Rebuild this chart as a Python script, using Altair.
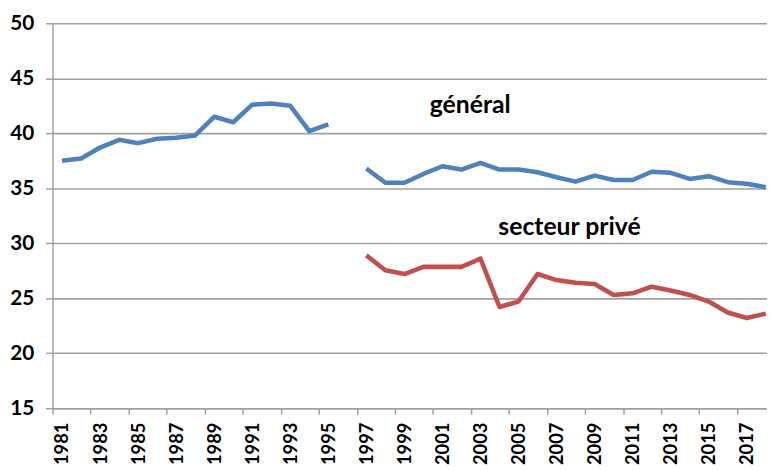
import altair as alt
import pandas as pd

years = list(range(1981, 2019))
general = [37.5, 37.7, 38.7, 39.4, 39.1, 39.5, 39.6, 39.8, 41.5, 41.0, 42.6, 42.7, 42.5, 40.2, 40.8, None,
           36.8, 35.5, 35.5, 36.3, 37.0, 36.7, 37.3, 36.7, 36.7, 36.45, 36.0, 35.6, 36.15, 35.75, 35.75,
           36.5, 36.4, 35.85, 36.1, 35.55, 35.4, 35.1]
private = [None] * 16 + [28.9, 27.55, 27.2, 27.85, 27.85, 27.85, 28.6, 24.2, 24.7, 27.2, 26.65, 26.4,
                         26.3, 25.3, 25.45, 26.05, 25.7, 25.3, 24.7, 23.7, 23.2, 23.6]
series_names = ["général", "secteur privé"]
series_colors = ["#4F81BD", "#C0504D"]
y_ticks = [15, 20, 25, 30, 35, 40, 45, 50]
# category boundaries (Excel-style ticks between years)
x_ticks = [y - 0.5 for y in years]

# annotation labels (text, position in year units, value at baseline)
label_text = ["général", "secteur privé"]
label_year = [2002.46, 2007.68]
label_value = [41.82, 30.73]

rows = []
for i, yr in enumerate(years):
    if general[i] is not None:
        rows.append({"year": yr, "value": general[i], "series": series_names[0],
                     "seg": "g1" if yr < 1996 else "g2"})
    if private[i] is not None:
        rows.append({"year": yr, "value": private[i], "series": series_names[1], "seg": "p1"})
df = pd.DataFrame(rows)

lab = pd.DataFrame({"text": label_text, "year": label_year, "value": label_value})

FONT = "Lato"
GRAY = "#a0a0a0"
W = 722
STEP = 19.22  # pixels per year in the reference

x_scale = alt.Scale(domain=[1980.5, 1980.5 + W / STEP], nice=False, zero=False)
y_scale = alt.Scale(domain=[15, 50], nice=False, zero=False)

x_axis = alt.Axis(
    title=None, values=x_ticks, labelAngle=-90, labelFont=FONT, labelFontWeight="bold", labelFontSize=18.5,
    labelColor="black",
    labelExpr="(datum.value + 0.5) % 2 == 1 ? '' + (datum.value + 0.5) : ''",
    labelOffset=STEP / 2,
    tickSize=6, tickColor=GRAY, tickWidth=1.5, domainColor=GRAY, domainWidth=1.5,
    labelPadding=8, labelOverlap=False, labelFlush=False, grid=False, labelAlign="right",
    labelBaseline="middle",
)
y_axis = alt.Axis(
    title=None, values=y_ticks, grid=True, gridColor=GRAY, gridWidth=1.6, tickSize=7,
    tickColor=GRAY, tickWidth=1.5, domainColor=GRAY, domainWidth=1.5, labelFont=FONT,
    labelFontWeight="bold", labelFontSize=21, labelColor="black", labelPadding=12,
)

lines = alt.Chart(df).mark_line(strokeWidth=4.6, strokeJoin="round").encode(
    x=alt.X("year:Q", scale=x_scale, axis=x_axis),
    y=alt.Y("value:Q", scale=y_scale, axis=y_axis),
    color=alt.Color("series:N", scale=alt.Scale(domain=series_names, range=series_colors), legend=None),
    detail="seg:N",
)

texts = alt.Chart(lab).mark_text(
    font=FONT, fontWeight="bold", fontSize=25, color="black",
    align="center", baseline="alphabetic",
).encode(
    x=alt.X("year:Q", scale=x_scale),
    y=alt.Y("value:Q", scale=y_scale),
    text="text:N",
)

chart = alt.layer(lines, texts).properties(
    width=W, height=389,
    padding={"left": 45, "top": 13, "right": 0, "bottom": 60},
    autosize=alt.AutoSizeParams(type="none"),
    background="white",
).configure_view(stroke=None)

chart.save("out.html", embed_options={"renderer": "svg", "actions": False})
